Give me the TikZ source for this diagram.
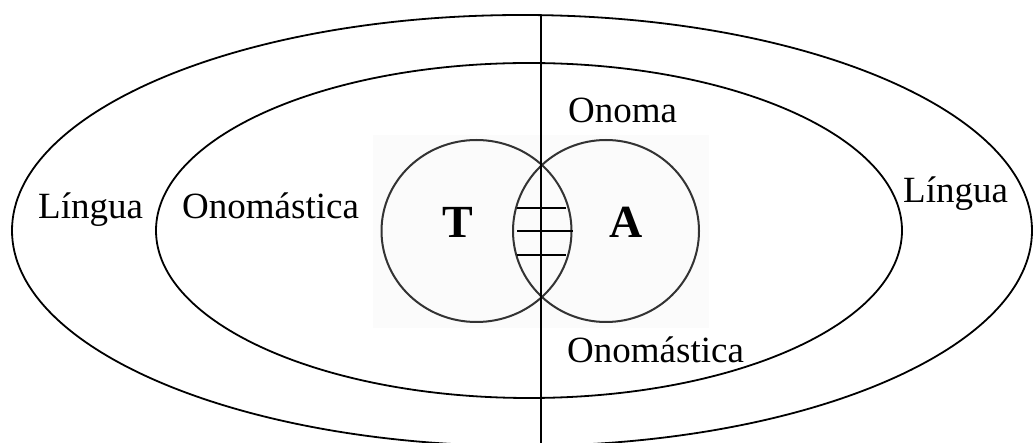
\documentclass[tikz,border=0pt]{standalone}
\usepackage{fontspec}
\setmainfont{Liberation Serif}
\begin{document}
\begin{tikzpicture}[x=1pt,y=-1pt,
  ring/.style={draw=black,line width=1.8pt},
  setc/.style={draw=black!80,line width=2pt},
  hatch/.style={draw=black,line width=2pt},
  lbl/.style={anchor=base west,inner sep=0pt,font=\fontsize{37}{40}\selectfont},
  big/.style={anchor=base west,inner sep=0pt,font=\fontsize{46}{50}\selectfont\bfseries}]
\useasboundingbox (0,0) rectangle (1034,443);
% pasted Venn background
\fill[black!1.5] (373,135) rectangle (709,328);
% ellipses
\draw[ring] (522,230.5) ellipse [x radius=510, y radius=215.5];
\draw[ring] (529,230.5) ellipse [x radius=373, y radius=167.5];
% circles
\draw[setc] (476.5,231) ellipse [x radius=95, y radius=91];
\draw[setc] (606,231) ellipse [x radius=93, y radius=91];
% hatch
\coordinate (h1a) at (517,208); \coordinate (h1b) at (566,208);
\coordinate (h2a) at (517,231); \coordinate (h2b) at (573,231);
\coordinate (h3a) at (517,255); \coordinate (h3b) at (566,255);
\draw[hatch] (h1a) -- (h1b);
\draw[hatch] (h2a) -- (h2b);
\draw[hatch] (h3a) -- (h3b);
% vertical axis
\coordinate (vtop) at (541,15);
\coordinate (vbot) at (541,443);
\draw[line width=1.8pt] (vtop) -- (vbot);
% labels
\node[lbl] (l1) at (38,219) {Língua};
\node[lbl] (o1) at (182,219) {Onomástica};
\node[lbl] (l2) at (903,203) {Língua};
\node[lbl] (on) at (568,123) {Onoma};
\node[lbl] (o2) at (567,363) {Onomástica};
\node[big] (t) at (442,238) {T};
\node[big] (a) at (609,238) {A};
\end{tikzpicture}
\end{document}
